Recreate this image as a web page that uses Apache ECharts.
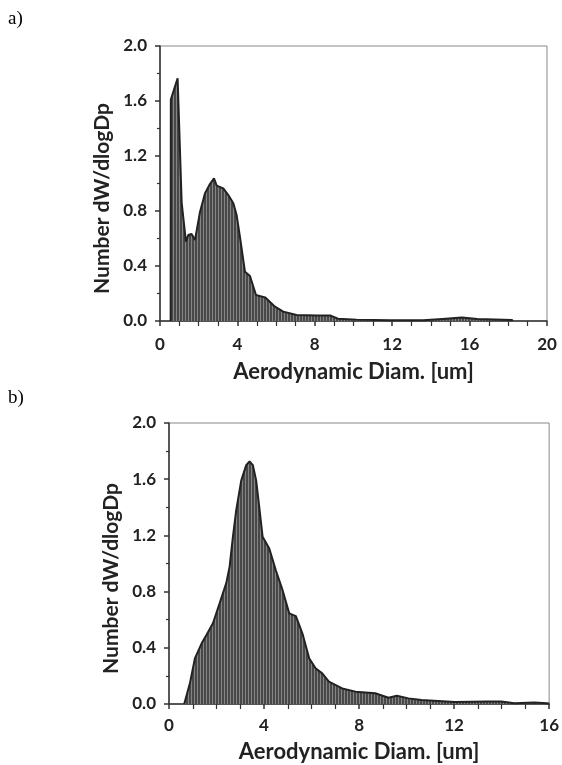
<!DOCTYPE html>
<html>
<head>
<meta charset="utf-8">
<script src="https://cdn.jsdelivr.net/npm/echarts@6/dist/echarts.min.js"></script>
<style>html,body{margin:0;padding:0;background:#fff}#c{width:562px;height:765px}</style>
</head>
<body>
<div id="c"></div>
<script>
// Panel a) data
const diamA = [0.55, 0.56, 0.91, 1.12, 1.34, 1.46, 1.63, 1.81, 2.07, 2.33, 2.58, 2.79, 2.93, 3.27, 3.53, 3.79, 3.96, 4.13, 4.39, 4.65, 4.96, 5.43, 5.94, 6.37, 7.06, 8.1, 8.79, 9.2, 10.16, 11.9, 13.6, 14.6, 15.6, 16.4, 18.2, 18.21];
const valueA = [0, 1.61, 1.765, 0.86, 0.577, 0.625, 0.633, 0.59, 0.795, 0.93, 0.996, 1.037, 0.985, 0.965, 0.916, 0.856, 0.77, 0.613, 0.359, 0.327, 0.189, 0.172, 0.104, 0.068, 0.044, 0.04, 0.04, 0.017, 0.01, 0.005, 0.005, 0.015, 0.025, 0.015, 0.007, 0];
// Panel b) data
const diamB = [0.64, 0.88, 1.09, 1.37, 1.57, 1.85, 2.13, 2.41, 2.55, 2.69, 2.83, 3.04, 3.25, 3.39, 3.53, 3.67, 3.80, 3.94, 4.22, 4.50, 4.78, 5.06, 5.34, 5.62, 5.90, 6.17, 6.45, 6.73, 7.29, 7.85, 8.68, 9.24, 9.59, 10.08, 10.63, 12.03, 13.42, 13.98, 14.54, 15.37, 15.9, 16];
const valueB = [0, 0.147, 0.325, 0.43, 0.49, 0.575, 0.716, 0.86, 0.976, 1.19, 1.38, 1.59, 1.70, 1.727, 1.70, 1.59, 1.40, 1.19, 1.107, 0.95, 0.81, 0.645, 0.625, 0.50, 0.325, 0.254, 0.218, 0.159, 0.111, 0.088, 0.076, 0.045, 0.059, 0.040, 0.028, 0.014, 0.017, 0.017, 0.005, 0.01, 0.005, 0.004];
// Axis ticks
const xMaxA = 20, xMaxB = 16, xStep = 4;
const yMax = 2.0, yStep = 0.4;
const xTitle = 'Aerodynamic Diam. [um]';
const yTitle = 'Number dW/dlogDp';

const cv = document.createElement('canvas');
cv.width = 3; cv.height = 4;
const cx = cv.getContext('2d');
cx.fillStyle = '#484848'; cx.fillRect(0, 0, 3, 4);
cx.fillStyle = '#858585'; cx.fillRect(2, 0, 1, 4);

const FONT = 'Lato';
function xAxis(gi, max, gap, margin) {
  return {
    type: 'value', gridIndex: gi, min: 0, max: max, interval: xStep,
    name: xTitle, nameLocation: 'middle', nameGap: gap,
    nameTextStyle: {fontFamily: FONT, fontWeight: 'bold', fontSize: 22, color: '#222'},
    axisLine: {show: true, onZero: false, lineStyle: {color: '#333', width: 1.5}},
    axisTick: {show: true, inside: false, length: 5, lineStyle: {color: '#333', width: 1.5}},
    minorTick: {show: true, splitNumber: 4, length: 5, lineStyle: {color: '#333', width: 1.2}},
    axisLabel: {fontFamily: FONT, fontWeight: 'bold', fontSize: 17, color: '#222', margin: margin},
    splitLine: {show: false}
  };
}
function yAxis(gi) {
  return {
    type: 'value', gridIndex: gi, min: 0, max: yMax, interval: yStep,
    name: yTitle, nameLocation: 'middle', nameGap: 42, nameRotate: 90,
    nameTextStyle: {fontFamily: FONT, fontWeight: 'bold', fontSize: 21, color: '#222', padding: [0, 30, 0, 0]},
    axisLine: {show: true, lineStyle: {color: '#333', width: 1.5}},
    axisTick: {show: true, inside: false, length: 5, lineStyle: {color: '#333', width: 1.5}},
    minorTick: {show: true, splitNumber: 2, length: 3, lineStyle: {color: '#333', width: 1.2}},
    axisLabel: {fontFamily: FONT, fontWeight: 'bold', fontSize: 17, color: '#222', margin: 13,
      formatter: v => v.toFixed(1)},
    splitLine: {show: false}
  };
}
function zip(a, b) { return a.map((x, i) => [x, b[i]]); }
function series(gi, data) {
  return {
    type: 'line', xAxisIndex: gi, yAxisIndex: gi, data: data, symbol: 'none',
    smooth: false, animation: false,
    lineStyle: {color: '#222', width: 2},
    areaStyle: {color: {image: cv, repeat: 'repeat'}, opacity: 1}
  };
}

const chart = echarts.init(document.getElementById('c'), null, {renderer: 'canvas'});
chart.setOption({
  animation: false,
  backgroundColor: '#fff',
  grid: [
    {left: 160, top: 46, width: 387, height: 275, show: true, borderColor: '#888', borderWidth: 1},
    {left: 169, top: 423, width: 382, height: 281, show: true, borderColor: '#888', borderWidth: 1}
  ],
  xAxis: [xAxis(0, xMaxA, 40, 15), xAxis(1, xMaxB, 37, 13)],
  yAxis: [yAxis(0), yAxis(1)],
  series: [series(0, zip(diamA, valueA)), series(1, zip(diamB, valueB))],
  graphic: [
    {type: 'text', left: 8, top: 10, style: {text: 'a)', font: '19px "Liberation Serif"', fill: '#000'}},
    {type: 'text', left: 8, top: 389, style: {text: 'b)', font: '19px "Liberation Serif"', fill: '#000'}}
  ]
});
</script>
</body>
</html>
